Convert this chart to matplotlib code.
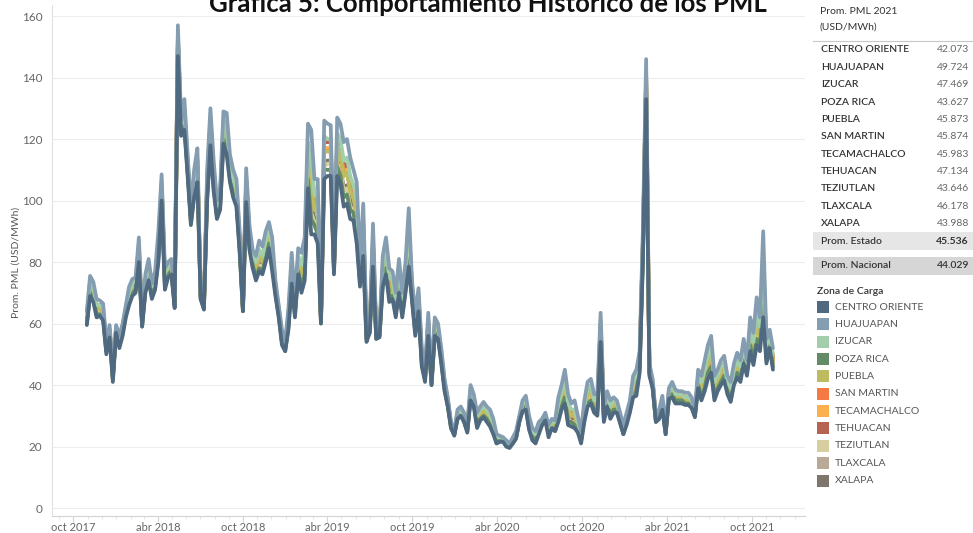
import numpy as np
import pandas as pd
import matplotlib
matplotlib.use("Agg")
import matplotlib.pyplot as plt
import matplotlib.dates as mdates
from matplotlib.patches import Rectangle

plt.rcParams['font.family'] = ['Lato', 'DejaVu Sans']

zonas = ["CENTRO ORIENTE", "HUAJUAPAN", "IZUCAR", "POZA RICA", "PUEBLA", "SAN MARTIN",
         "TECAMACHALCO", "TEHUACAN", "TEZIUTLAN", "TLAXCALA", "XALAPA"]
colores = ["#4f6980", "#849db1", "#a2ceaa", "#638b66", "#bfbb60", "#f47942",
           "#fbb04e", "#b66353", "#d7ce9f", "#b9aa97", "#7e756d"]
prom_2021 = ["42.073", "49.724", "47.469", "43.627", "45.873", "45.874",
             "45.983", "47.134", "43.646", "46.178", "43.988"]
prom_estado = "45.536"
prom_nacional = "44.029"

# promedio semanal del PML por zona de carga (USD/MWh), semanas desde 30-oct-2017
centro_oriente = [
    59.5, 69, 67, 62, 62.5, 61, 50, 55.5, 41, 57, 52, 56, 62, 66, 69, 70, 80, 59, 70, 74,
    68, 71, 80, 100, 71, 75, 76, 65, 147, 121, 123, 108, 92, 101, 106, 68, 64.5, 100, 118, 103,
    94, 97, 118.5, 115, 106, 101, 98, 83, 64, 99.5, 84, 78, 74, 77, 76, 80, 84.5, 77, 69, 62,
    53, 51, 58, 73, 62, 76, 70, 74, 104, 89, 89, 86, 60, 107, 108, 108, 76, 108, 105.5, 98,
    99, 94, 93.5, 86, 72, 82, 54, 57, 78.5, 55, 55.5, 72, 76, 67, 68, 62, 70, 62, 70, 78.5,
    67.5, 56, 64, 46, 41, 56, 40, 56, 55, 47, 38, 33, 26, 23.5, 29, 30, 28, 24.5, 35, 33,
    26, 28.5, 29.5, 28, 26.5, 24, 21, 21.5, 21.5, 20, 19.5, 21, 22.5, 28, 31.5, 32, 25.5, 22, 21, 24,
    27, 28.5, 23, 26, 25, 28, 32, 34, 27, 26.5, 26, 24.5, 21, 28, 33, 34, 31, 30, 54, 28,
    33, 29, 31, 31, 27.5, 24, 27, 31, 36, 36.5, 44, 80, 133, 43, 39, 28, 29, 32, 24, 35.5,
    36, 34, 34, 34, 33.5, 33.5, 32.5, 29.5, 39, 35, 38, 42, 44, 35, 38, 40, 41.5, 37, 34.5, 40,
    42.5, 41, 47, 43, 51, 46.5, 53, 51, 62, 47, 52, 45]
huajuapan = [
    64, 75.5, 73.5, 68, 67.5, 66.5, 54, 59.5, 45, 59.5, 56, 60, 66, 72, 74.5, 75, 88, 62, 76, 81,
    73, 77, 90, 108.5, 78, 80, 81, 70, 157, 126, 133, 115, 98, 110, 117, 70, 67, 110, 130, 113,
    100, 104, 129, 128.5, 115, 110, 107, 90, 66, 110.5, 92, 84, 82, 87, 85, 90, 93, 88, 74, 66,
    58, 54.5, 65, 83, 68, 84.5, 83, 88, 125, 123, 107, 107, 63, 126, 125, 124.5, 81, 127, 125, 119,
    120, 114, 110, 106, 80, 99, 59, 60, 92.5, 58, 58, 82, 88, 78, 77, 70, 81, 70, 80, 97.5,
    74, 63, 71.5, 52, 45, 63.5, 42, 62, 60, 52, 42, 36, 28, 25, 32, 33, 31, 27, 40, 37,
    31, 33, 34.5, 33, 32, 29, 24, 23.5, 23, 22, 21, 23, 25, 30, 35, 36.5, 30, 26, 25, 28,
    29, 31, 27, 29, 28.5, 36, 40, 45, 37, 34, 35, 30, 25, 35, 41, 42, 37, 37, 63.5, 33,
    38, 35, 36, 35, 31, 27, 31, 35, 43, 45, 51, 90, 146, 47, 42, 30, 32, 36.5, 26, 39,
    41, 38.5, 38, 38, 37.5, 37.5, 36, 32, 45, 43, 48, 53, 56, 43, 45, 48, 49.5, 43, 41, 47,
    50.5, 48, 55, 48, 62, 57, 68.5, 62, 90, 55, 58, 52]
izucar = [
    63, 74, 72, 66, 66, 65, 53, 58, 44, 59, 55, 59, 65, 70, 73, 74, 86, 61, 74, 79,
    72, 75, 87, 106, 76, 79, 80, 69, 154, 125, 130, 113, 96, 107, 114, 69, 66, 107, 127, 110,
    98, 102, 126, 125, 112, 107, 104, 88, 65, 107, 90, 82, 80, 84, 82, 87, 91, 85, 73, 65,
    57, 54, 63, 80, 66, 82, 79, 84, 119, 114, 102, 101, 62, 121, 120, 120, 80, 122, 120, 113,
    114, 108, 105, 100, 78, 94, 58, 59, 89, 57, 57, 79, 85, 75, 74, 68, 78, 68, 77, 92,
    72, 61, 69, 50, 44, 61, 41, 60, 59, 51, 41, 35, 27, 25, 31, 32, 30, 26, 39, 36,
    30, 32, 33, 32, 30, 28, 23, 23, 23, 21, 21, 22, 24, 29, 34, 35, 29, 25, 24, 27,
    28, 30, 26, 28, 28, 34, 38, 42, 34, 32, 32, 28, 24, 33, 39, 40, 35, 35, 61, 32,
    37, 33, 35, 34, 30, 26, 30, 34, 41, 43, 49, 87, 142, 46, 41, 29, 31, 35, 25, 38,
    40, 37, 37, 37, 36, 36, 35, 31, 43, 41, 45, 50, 53, 41, 43, 46, 47, 41, 39, 45,
    48, 46, 53, 47, 59, 54, 64, 59, 82, 53, 56, 50]
poza_rica = [
    60, 70, 68, 63, 63, 62, 51, 56, 42, 57, 53, 57, 63, 67, 70, 71, 81, 59, 71, 75,
    69, 72, 81, 101, 72, 76, 77, 66, 148, 122, 124, 109, 93, 102, 108, 68, 65, 101, 120, 104,
    95, 98, 120, 117, 107, 102, 99, 84, 64, 101, 85, 79, 75, 78, 77, 81, 86, 79, 70, 63,
    54, 51, 59, 74, 63, 77, 72, 76, 107, 94, 92, 89, 60, 110, 110, 110, 77, 111, 108, 101,
    102, 97, 96, 89, 73, 84, 55, 57, 80, 55, 56, 73, 78, 69, 69, 63, 72, 63, 71, 81,
    68, 57, 65, 47, 42, 57, 40, 57, 56, 48, 39, 33, 26, 24, 29, 30, 28, 25, 36, 34,
    27, 29, 30, 29, 27, 25, 21, 22, 22, 20, 20, 21, 23, 28, 32, 33, 26, 23, 22, 25,
    27, 29, 24, 26, 25, 29, 33, 36, 28, 28, 27, 25, 22, 29, 34, 35, 32, 31, 55, 29,
    34, 30, 32, 32, 28, 24, 28, 32, 37, 38, 45, 81, 135, 44, 39, 28, 29, 33, 24, 36,
    37, 35, 35, 35, 34, 34, 33, 30, 40, 36, 39, 44, 46, 36, 39, 41, 43, 38, 35, 41,
    44, 42, 48, 44, 53, 48, 55, 53, 66, 48, 53, 46]
puebla = [
    62, 72, 70, 65, 65, 63, 52, 57, 43, 58, 54, 58, 64, 69, 71, 72, 84, 60, 73, 77,
    70, 74, 85, 104, 74, 77, 78, 67, 152, 123, 128, 111, 95, 105, 111, 69, 66, 105, 124, 108,
    97, 100, 123, 121, 110, 105, 102, 86, 65, 105, 88, 81, 78, 82, 80, 85, 88, 82, 71, 64,
    55, 53, 61, 78, 65, 80, 76, 80, 114, 105, 97, 96, 61, 116, 116, 116, 78, 117, 114, 108,
    109, 103, 101, 95, 76, 90, 56, 58, 85, 56, 57, 77, 82, 72, 72, 66, 75, 66, 75, 87,
    70, 59, 67, 49, 43, 59, 41, 59, 57, 49, 40, 34, 27, 24, 30, 31, 29, 26, 37, 35,
    28, 31, 32, 30, 29, 26, 22, 22, 22, 21, 20, 22, 24, 29, 33, 34, 28, 24, 23, 26,
    28, 30, 25, 27, 27, 32, 36, 39, 32, 30, 30, 27, 23, 31, 37, 38, 34, 33, 58, 30,
    35, 32, 33, 33, 29, 25, 29, 33, 39, 40, 47, 85, 139, 45, 40, 29, 30, 34, 25, 37,
    38, 36, 36, 36, 35, 35, 34, 31, 42, 39, 43, 47, 50, 39, 41, 44, 45, 40, 37, 43,
    46, 44, 51, 45, 56, 51, 60, 56, 75, 51, 55, 48]
san_martin = [
    62, 72, 70, 65, 65, 64, 52, 57, 43, 58, 54, 58, 64, 69, 72, 72, 84, 60, 73, 77,
    70, 74, 85, 104, 74, 77, 78, 67, 152, 123, 128, 111, 95, 105, 111, 69, 66, 105, 124, 108,
    97, 100, 124, 122, 110, 105, 102, 86, 65, 105, 88, 81, 78, 82, 80, 85, 89, 82, 71, 64,
    55, 53, 61, 78, 65, 80, 76, 81, 114, 106, 98, 96, 61, 116, 116, 116, 78, 117, 115, 108,
    109, 104, 102, 96, 76, 90, 56, 58, 85, 56, 57, 77, 82, 72, 72, 66, 75, 66, 75, 88,
    71, 59, 68, 49, 43, 60, 41, 59, 57, 49, 40, 34, 27, 24, 30, 31, 29, 26, 37, 35,
    28, 31, 32, 30, 29, 26, 22, 22, 22, 21, 20, 22, 24, 29, 33, 34, 28, 24, 23, 26,
    28, 30, 25, 27, 27, 32, 36, 39, 32, 30, 30, 27, 23, 31, 37, 38, 34, 33, 59, 30,
    35, 32, 33, 33, 29, 25, 29, 33, 39, 41, 47, 85, 139, 45, 40, 29, 30, 34, 25, 37,
    38, 36, 36, 36, 35, 35, 34, 31, 42, 39, 43, 47, 50, 39, 41, 44, 45, 40, 38, 43,
    46, 44, 51, 45, 56, 52, 61, 56, 76, 51, 55, 48]
tecamachalco = [
    62, 72, 70, 65, 65, 64, 52, 58, 43, 58, 54, 58, 64, 69, 72, 73, 84, 61, 73, 78,
    71, 74, 85, 104, 75, 78, 79, 68, 152, 124, 128, 112, 95, 106, 112, 69, 66, 105, 124, 108,
    97, 101, 124, 122, 111, 106, 103, 87, 65, 105, 88, 81, 78, 82, 81, 85, 89, 83, 72, 64,
    56, 53, 62, 78, 65, 80, 77, 81, 115, 107, 98, 97, 62, 117, 117, 117, 79, 118, 116, 109,
    110, 104, 102, 96, 76, 91, 57, 59, 86, 57, 57, 77, 82, 73, 73, 66, 76, 66, 75, 88,
    71, 60, 68, 49, 43, 60, 41, 59, 58, 50, 40, 35, 27, 24, 31, 32, 30, 26, 38, 35,
    29, 31, 32, 31, 29, 27, 23, 23, 22, 21, 20, 22, 24, 29, 33, 34, 28, 24, 23, 26,
    28, 30, 25, 28, 27, 32, 36, 40, 32, 30, 31, 27, 23, 32, 37, 38, 34, 34, 59, 31,
    36, 32, 34, 33, 29, 26, 29, 33, 40, 41, 48, 85, 140, 45, 41, 29, 31, 34, 25, 37,
    39, 36, 36, 36, 36, 36, 34, 31, 42, 39, 43, 48, 50, 39, 42, 44, 46, 40, 38, 44,
    47, 45, 51, 46, 57, 52, 61, 57, 77, 51, 55, 49]
tehuacan = [
    62, 73, 71, 66, 66, 64, 53, 58, 44, 59, 55, 59, 65, 70, 72, 73, 85, 61, 74, 78,
    71, 75, 86, 105, 75, 78, 79, 68, 153, 124, 129, 112, 96, 107, 113, 69, 66, 106, 126, 109,
    98, 101, 125, 124, 112, 107, 104, 87, 65, 107, 89, 82, 79, 83, 82, 86, 90, 84, 72, 65,
    56, 53, 62, 79, 66, 81, 78, 83, 117, 111, 101, 99, 62, 119, 119, 119, 79, 120, 118, 111,
    112, 107, 104, 99, 77, 93, 57, 59, 87, 57, 57, 78, 84, 74, 74, 67, 77, 67, 76, 91,
    72, 60, 69, 50, 44, 61, 41, 60, 58, 50, 41, 35, 27, 24, 31, 32, 30, 26, 38, 36,
    29, 31, 33, 31, 30, 27, 23, 23, 22, 21, 20, 22, 24, 29, 34, 35, 28, 25, 24, 27,
    28, 30, 26, 28, 27, 33, 37, 41, 33, 31, 32, 28, 24, 32, 38, 39, 35, 34, 60, 31,
    36, 33, 34, 34, 30, 26, 30, 34, 40, 42, 48, 86, 141, 46, 41, 29, 31, 35, 25, 38,
    39, 37, 37, 37, 36, 36, 35, 31, 43, 40, 44, 49, 52, 40, 42, 45, 47, 41, 39, 44,
    48, 45, 52, 46, 58, 53, 63, 58, 80, 52, 56, 49]
teziutlan = [
    60, 70, 68, 63, 64, 62, 51, 56, 42, 58, 53, 57, 63, 67, 70, 71, 82, 60, 71, 76,
    69, 72, 82, 102, 73, 76, 77, 66, 149, 122, 125, 110, 93, 103, 108, 68, 65, 102, 121, 105,
    95, 99, 121, 118, 108, 103, 100, 85, 64, 102, 86, 79, 76, 79, 78, 82, 86, 79, 70, 63,
    54, 52, 60, 75, 63, 78, 73, 77, 109, 96, 93, 91, 61, 111, 112, 112, 77, 112, 110, 103,
    104, 98, 97, 90, 74, 86, 55, 58, 82, 56, 56, 74, 79, 69, 70, 64, 72, 64, 72, 83,
    69, 58, 66, 47, 42, 58, 40, 57, 56, 48, 39, 34, 26, 24, 30, 31, 29, 25, 36, 34,
    27, 29, 31, 29, 28, 25, 22, 22, 22, 20, 20, 21, 23, 28, 32, 33, 26, 23, 22, 25,
    27, 29, 24, 27, 26, 30, 34, 36, 29, 28, 28, 26, 22, 30, 35, 36, 32, 32, 56, 29,
    34, 30, 32, 32, 28, 25, 28, 32, 38, 38, 46, 82, 136, 44, 40, 28, 30, 33, 24, 36,
    37, 35, 35, 35, 34, 34, 33, 30, 40, 37, 40, 44, 47, 37, 40, 42, 43, 38, 36, 42,
    44, 43, 49, 44, 53, 49, 56, 53, 68, 49, 53, 47]
tlaxcala = [
    62, 73, 71, 65, 65, 64, 52, 58, 43, 58, 54, 58, 64, 69, 72, 73, 84, 61, 73, 78,
    71, 74, 86, 105, 75, 78, 79, 68, 152, 124, 128, 112, 95, 106, 112, 69, 66, 106, 125, 108,
    97, 101, 124, 122, 111, 106, 103, 87, 65, 106, 88, 81, 78, 82, 81, 86, 89, 83, 72, 64,
    56, 53, 62, 78, 65, 81, 77, 82, 116, 108, 99, 98, 62, 117, 117, 117, 79, 118, 116, 110,
    111, 105, 103, 97, 76, 91, 57, 59, 86, 57, 57, 78, 83, 73, 73, 66, 76, 66, 76, 89,
    71, 60, 68, 49, 43, 60, 41, 59, 58, 50, 40, 35, 27, 24, 31, 32, 30, 26, 38, 35,
    29, 31, 32, 31, 30, 27, 23, 23, 22, 21, 20, 22, 24, 29, 33, 34, 28, 24, 23, 26,
    28, 30, 25, 28, 27, 32, 36, 40, 32, 31, 31, 28, 23, 32, 37, 38, 34, 34, 59, 31,
    36, 32, 34, 33, 29, 26, 29, 33, 40, 41, 48, 86, 140, 45, 41, 29, 31, 34, 25, 37,
    39, 36, 36, 36, 36, 36, 34, 31, 42, 39, 44, 48, 51, 39, 42, 44, 46, 40, 38, 44,
    47, 45, 51, 46, 57, 52, 62, 57, 77, 51, 55, 49]
xalapa = [
    61, 71, 69, 64, 64, 62, 51, 57, 42, 58, 53, 57, 63, 68, 70, 71, 82, 60, 72, 76,
    69, 73, 83, 102, 73, 76, 77, 66, 150, 122, 126, 110, 94, 104, 109, 69, 65, 103, 121, 106,
    96, 99, 121, 119, 109, 104, 101, 85, 65, 103, 86, 80, 76, 80, 79, 83, 87, 80, 70, 63,
    54, 52, 60, 76, 64, 78, 74, 78, 110, 99, 94, 92, 61, 112, 113, 113, 77, 113, 111, 104,
    105, 100, 98, 92, 74, 87, 55, 58, 82, 56, 56, 75, 79, 70, 71, 64, 73, 64, 73, 84,
    69, 58, 66, 48, 42, 58, 41, 58, 56, 48, 39, 34, 27, 24, 30, 31, 29, 25, 36, 34,
    27, 30, 31, 29, 28, 25, 22, 22, 22, 21, 20, 22, 23, 29, 32, 33, 27, 23, 22, 25,
    28, 29, 24, 27, 26, 30, 34, 37, 30, 29, 29, 26, 22, 30, 35, 36, 33, 32, 57, 29,
    34, 31, 32, 32, 28, 25, 28, 32, 38, 39, 46, 83, 137, 44, 40, 29, 30, 33, 25, 36,
    37, 35, 35, 35, 35, 35, 33, 30, 41, 37, 41, 45, 47, 37, 40, 42, 44, 39, 36, 42,
    45, 43, 49, 44, 54, 49, 57, 54, 70, 49, 54, 47]

valores = [centro_oriente, huajuapan, izucar, poza_rica, puebla, san_martin,
           tecamachalco, tehuacan, teziutlan, tlaxcala, xalapa]
fechas = pd.date_range("2017-10-30", periods=len(centro_oriente), freq="7D")

W, H = 973, 533
fig = plt.figure(figsize=(W / 100, H / 100), dpi=100)
ax = fig.add_axes([52 / W, 17 / H, (805 - 52) / W, (516 - 5) / H])

# orden de dibujo: la primera zona queda encima
for i in range(len(zonas) - 1, -1, -1):
    ax.plot(fechas, valores[i], color=colores[i], lw=2.7, zorder=30 - i,
            solid_joinstyle="round", solid_capstyle="round")

ax.set_xlim(pd.Timestamp("2017-08-16"), pd.Timestamp("2022-01-23"))
ax.set_ylim(-2.6, 163.6)
ax.set_yticks(range(0, 161, 20))
ax.grid(axis="y", color="#ededed", lw=0.8)
ax.set_axisbelow(True)

meses = {4: "abr", 10: "oct"}
ax.xaxis.set_major_locator(mdates.MonthLocator(bymonth=[4, 10]))
ax.xaxis.set_minor_locator(mdates.MonthLocator())
ax.xaxis.set_major_formatter(plt.FuncFormatter(
    lambda v, p: "%s %d" % (meses[mdates.num2date(v).month], mdates.num2date(v).year)))

ax.tick_params(axis="y", length=0, labelsize=8.5, labelcolor="#666666", pad=7)
ax.tick_params(axis="x", which="major", length=4, color="#d4d4d4", labelsize=8,
               labelcolor="#666666", pad=0.5)
ax.tick_params(axis="x", which="minor", length=2.5, color="#e2e2e2")
for s in ["top", "right"]:
    ax.spines[s].set_visible(False)
ax.spines["left"].set_color("#e0e0e0")
ax.spines["bottom"].set_color("#d4d4d4")

fig.text(16 / W, 1 - 262 / H, "Prom. PML (USD/MWh)", rotation=90, ha="center", va="center",
         fontsize=7.5, color="#555555")
fig.text(488 / W, 1 - 12 / H, "Gráfica 5: Comportamiento Histórico de los PML",
         ha="center", va="baseline", fontsize=18.5, fontweight="bold", color="#111111")

# panel derecho en coordenadas de pixel
ov = fig.add_axes([0, 0, 1, 1])
ov.set_xlim(0, W)
ov.set_ylim(H, 0)
ov.axis("off")
ov.patch.set_visible(False)

ov.text(820, 11, "Prom. PML 2021", fontsize=7.5, color="#333333", va="center")
ov.text(820, 27, "(USD/MWh)", fontsize=7.5, color="#333333", va="center")
ov.plot([813, 973], [41, 41], color="#c8c8c8", lw=0.8)

paso = 17.35
for i, z in enumerate(zonas):
    y = 50 + paso * i
    ov.text(821, y, z, fontsize=7.5, fontweight="semibold", color="#333333", va="center")
    ov.text(969, y, prom_2021[i], fontsize=7.5, color="#666666", va="center", ha="right")

ov.add_patch(Rectangle((813, 232), 160, 18, color="#e6e6e6", lw=0))
ov.text(821, 241, "Prom. Estado", fontsize=7.5, fontweight="semibold", color="#333333", va="center")
ov.text(969, 241, prom_estado, fontsize=7.5, fontweight="bold", color="#333333", va="center", ha="right")
ov.add_patch(Rectangle((813, 257), 160, 18, color="#d6d6d6", lw=0))
ov.text(821, 266, "Prom. Nacional", fontsize=7.5, fontweight="semibold", color="#333333", va="center")
ov.text(969, 266, prom_nacional, fontsize=7.5, fontweight="semibold", color="#333333", va="center", ha="right")

ov.text(817, 291, "Zona de Carga", fontsize=7.5, fontweight="semibold", color="#333333", va="center")
for i, z in enumerate(zonas):
    y = 307 + paso * i
    ov.add_patch(Rectangle((817, y - 6), 12, 12, color=colores[i], lw=0))
    ov.text(835, y, z, fontsize=7.5, color="#555555", va="center")

fig.savefig("out.png", dpi=100)
